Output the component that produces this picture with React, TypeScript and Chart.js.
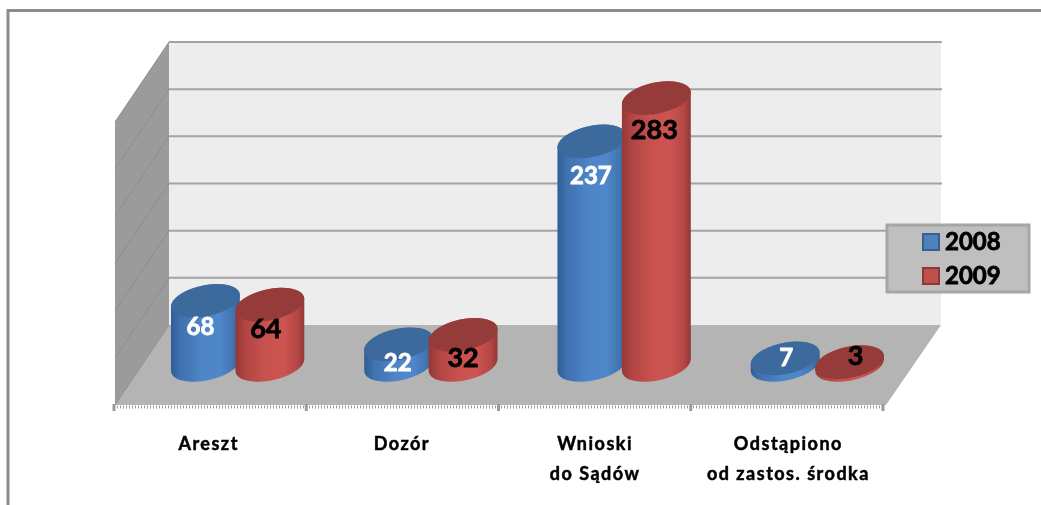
import React, { useEffect, useRef } from "react";
import { Chart, registerables } from "chart.js";

Chart.register(...registerables);

const categories: (string | string[])[] = ["Areszt", "Dozór", ["Wnioski", "do Sądów"], ["Odstąpiono", "od zastos. środka"]];
const series2008 = [68, 22, 237, 7];
const series2009 = [64, 32, 283, 3];
const seriesNames = ["2008", "2009"];

// Label placement relative to the cylinder top (dx, dy), per series and category
const labelNudge2008 = [[-5, 26], [-1, 19], [-1, 35], [1, 0]];
const labelNudge2009 = [[-4, 25], [0, 23], [-2, 32], [6, -6]];

const FONT = "Lato, 'Open Sans', sans-serif";
const DEPTH_X = 27;
const DEPTH_Y = 40;

const palette = [
  {
    top: "#3d6a9d",
    stops: [[0, "#2f5d96"], [0.14, "#3f72b0"], [0.45, "#4d85c7"], [0.7, "#4f88ca"], [0.9, "#4274b0"], [1, "#325f96"]],
    swatch: "#4f81bd",
    swatchLine: "#35608f",
    label: "#ffffff",
    labelSize: 24,
  },
  {
    top: "#953b39",
    stops: [[0, "#933836"], [0.14, "#b04543"], [0.45, "#c9524f"], [0.7, "#cc5451"], [0.9, "#b44745"], [1, "#923836"]],
    swatch: "#c0504d",
    swatchLine: "#8c3836",
    label: "#000000",
    labelSize: 27,
  },
];

const scene3d = {
  id: "scene3d",
  beforeDraw(chart: any) {
    const { ctx, scales, chartArea } = chart;
    const x0 = chartArea.left;
    const x1 = chartArea.right;
    const y = scales.y;
    const floorMid = y.getPixelForValue(0);
    const backBottom = floorMid - DEPTH_Y;
    const backTop = y.getPixelForValue(300) - DEPTH_Y;
    const frontBottom = floorMid + DEPTH_Y;
    const backL = x0 + DEPTH_X + 1;
    const backR = x1 + DEPTH_X;
    const frontL = x0 - DEPTH_X + 1;
    const axisL = x0 - DEPTH_X;
    const axisR = x1 - DEPTH_X - 4;

    ctx.save();
    ctx.letterSpacing = "0px";
    // outer frame: top and left only
    ctx.strokeStyle = "#8c8c8c";
    ctx.lineWidth = 3;
    ctx.beginPath();
    ctx.moveTo(8, 505);
    ctx.lineTo(8, 10.5);
    ctx.lineTo(1041, 10.5);
    ctx.stroke();

    // back wall
    ctx.fillStyle = "#ededed";
    ctx.fillRect(backL, backTop, backR - backL, backBottom - backTop);

    // left wall
    ctx.fillStyle = "#9b9b9b";
    ctx.beginPath();
    ctx.moveTo(backL, backTop);
    ctx.lineTo(frontL, backTop + 2 * DEPTH_Y);
    ctx.lineTo(frontL, frontBottom);
    ctx.lineTo(backL, backBottom);
    ctx.closePath();
    ctx.fill();

    // floor
    ctx.fillStyle = "#b4b4b4";
    ctx.beginPath();
    ctx.moveTo(backL, backBottom);
    ctx.lineTo(backR, backBottom);
    ctx.lineTo(axisR + 3, frontBottom);
    ctx.lineTo(frontL, frontBottom);
    ctx.closePath();
    ctx.fill();

    // grid on the back wall and left wall, taken from the value scale
    y.ticks.forEach((t: any) => {
      const py = y.getPixelForValue(t.value) - DEPTH_Y;
      if (t.value > 0) {
        ctx.strokeStyle = "#a3a3a3";
        ctx.lineWidth = 2;
        ctx.beginPath();
        ctx.moveTo(backL, py);
        ctx.lineTo(backR + 1, py);
        ctx.stroke();
      }
      ctx.strokeStyle = "#8e8e8e";
      ctx.lineWidth = 1;
      ctx.beginPath();
      ctx.moveTo(backL, py);
      ctx.lineTo(frontL, py + 2 * DEPTH_Y);
      ctx.stroke();
    });

    // front axis with dotted minor ticks and major ticks
    ctx.strokeStyle = "#9a9a9a";
    ctx.lineWidth = 3;
    ctx.setLineDash([1, 2]);
    ctx.beginPath();
    ctx.moveTo(axisL, frontBottom + 2);
    ctx.lineTo(axisR, frontBottom + 2);
    ctx.stroke();
    ctx.setLineDash([]);
    const step = (axisR - axisL) / categories.length;
    ctx.lineWidth = 3;
    ctx.strokeStyle = "#999999";
    for (let i = 0; i <= categories.length; i++) {
      const tx = axisL + step * i;
      ctx.beginPath();
      ctx.moveTo(tx, frontBottom - 1);
      ctx.lineTo(tx, frontBottom + 6);
      ctx.stroke();
    }
    ctx.restore();
    ctx.letterSpacing = "1.5px";
  },
  beforeDatasetDraw() {
    return false;
  },
  afterDatasetsDraw(chart: any) {
    const { ctx } = chart;
    ctx.save();
    ctx.letterSpacing = "0px";
    const nudges = [labelNudge2008, labelNudge2009];
    const drawCylinder = (bar: any, p: any) => {
      const { x, y, base, width } = bar.getProps(["x", "y", "base", "width"], true);
      const a = width * 0.544;
      const b = width * 0.241;
      const rot = (-12 * Math.PI) / 180;
      const t0 = Math.atan((-b / a) * Math.tan(rot));
      const xh = Math.sqrt(a * a * Math.cos(rot) ** 2 + b * b * Math.sin(rot) ** 2);
      const g = ctx.createLinearGradient(x - xh, 0, x + xh, 0);
      p.stops.forEach((s: any) => g.addColorStop(s[0], s[1]));
      ctx.fillStyle = g;
      ctx.beginPath();
      ctx.ellipse(x, base, a, b, rot, t0, t0 + Math.PI, false);
      ctx.ellipse(x, y, a, b, rot, t0 + Math.PI, t0 + 2 * Math.PI, false);
      ctx.closePath();
      ctx.fill();
      ctx.fillStyle = p.top;
      ctx.beginPath();
      ctx.ellipse(x, y, a, b, rot, 0, Math.PI * 2);
      ctx.fill();
    };
    chart.data.datasets.forEach((ds: any, di: number) => {
      chart.getDatasetMeta(di).data.forEach((bar: any) => drawCylinder(bar, palette[di]));
    });
    chart.data.datasets.forEach((ds: any, di: number) => {
      chart.getDatasetMeta(di).data.forEach((bar: any, i: number) => {
        const { x, y } = bar.getProps(["x", "y"], true);
        ctx.font = `bold ${palette[di].labelSize}px ${FONT}`;
        ctx.textAlign = "center";
        ctx.textBaseline = "middle";
        ctx.fillStyle = palette[di].label;
        ctx.strokeStyle = palette[di].label;
        ctx.lineWidth = 0.8;
        ctx.strokeText(String(ds.data[i]), x + nudges[di][i][0], y + nudges[di][i][1]);
        ctx.fillText(String(ds.data[i]), x + nudges[di][i][0], y + nudges[di][i][1]);
      });
    });

    // legend box
    const bx = 886;
    const by = 224;
    const bw = 144;
    const bh = 69;
    ctx.fillStyle = "#bfbfbf";
    ctx.fillRect(bx, by, bw, bh);
    ctx.strokeStyle = "#a6a6a6";
    ctx.lineWidth = 3;
    ctx.strokeRect(bx + 1, by + 1, bw - 2, bh - 2);
    seriesNames.forEach((name, i) => {
      const sy = 234 + i * 34;
      ctx.fillStyle = palette[i].swatch;
      ctx.fillRect(923, sy, 16, 16);
      ctx.strokeStyle = palette[i].swatchLine;
      ctx.lineWidth = 2;
      ctx.strokeRect(923, sy, 16, 16);
      ctx.fillStyle = "#000000";
      ctx.strokeStyle = "#000000";
      ctx.lineWidth = 0.8;
      ctx.font = `bold 24px ${FONT}`;
      ctx.textAlign = "left";
      ctx.textBaseline = "middle";
      ctx.strokeText(name, 945, sy + 8);
      ctx.fillText(name, 945, sy + 8);
    });
    ctx.restore();
  },
};

export default function App() {
  const ref = useRef<HTMLCanvasElement>(null);
  useEffect(() => {
    const chart = new Chart(ref.current as HTMLCanvasElement, {
      type: "bar",
      data: {
        labels: categories as any,
        datasets: [
          { label: seriesNames[0], data: series2008, backgroundColor: palette[0].swatch },
          { label: seriesNames[1], data: series2009, backgroundColor: palette[1].swatch },
        ],
      },
      options: {
        animation: false,
        responsive: false,
        events: [],
        layout: { padding: { left: 141, right: 127, top: 82, bottom: 0 } },
        datasets: { bar: { categoryPercentage: 0.667, barPercentage: 1 } },
        plugins: { legend: { display: false }, tooltip: { enabled: false }, title: { display: false } },
        scales: {
          x: {
            grid: { display: false },
            border: { display: false },
            afterFit: (s: any) => {
              s.height = 140;
            },
            ticks: {
              autoSkip: false,
              maxRotation: 0,
              minRotation: 0,
              padding: 57,
              labelOffset: -29,
              color: "#000000",
              textStrokeColor: "#000000",
              textStrokeWidth: 0.5,
              font: { family: FONT, weight: "bold", size: 18, lineHeight: 1.62 },
            },
          },
          y: { display: false, min: 0, max: 300, ticks: { stepSize: 50 } },
        },
      } as any,
      plugins: [scene3d],
    });
    return () => chart.destroy();
  }, []);
  return (
    <div style={{ position: "fixed", left: 0, top: 0, width: 1041, height: 505, background: "#ffffff" }}>
      <canvas ref={ref} width={1041} height={505} style={{ display: "block" }} />
    </div>
  );
}
